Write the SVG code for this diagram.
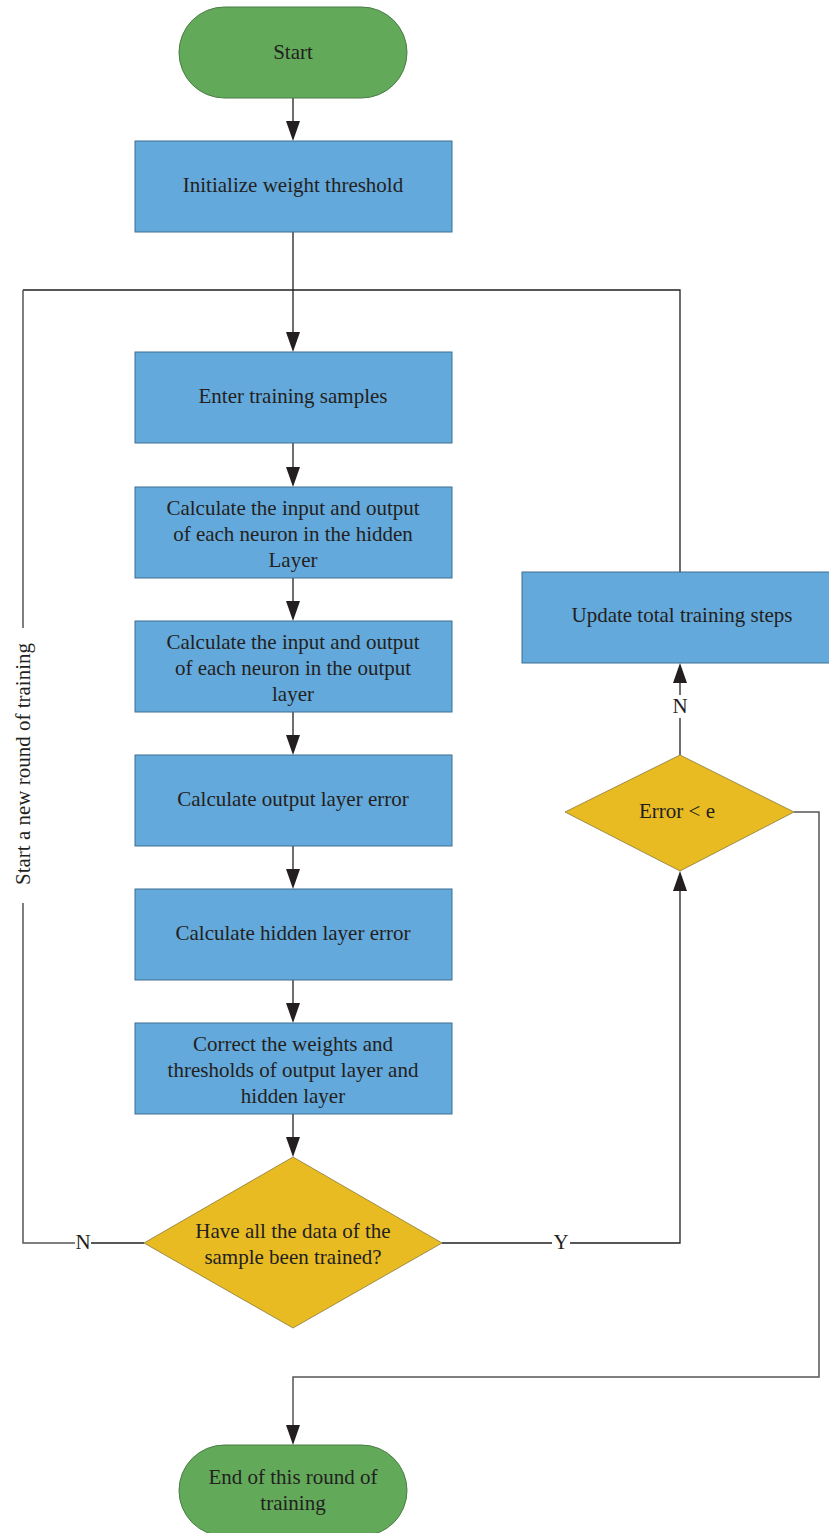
<svg xmlns="http://www.w3.org/2000/svg" width="829" height="1533" viewBox="0 0 829 1533">
<style>
.t{font-family:"Liberation Serif","Times New Roman",serif;font-size:21px;fill:#231f20;text-anchor:middle;dominant-baseline:central}
.box{fill:#63a9dc;stroke:#3f6f8f;stroke-width:1}
.term{fill:#62a95a;stroke:#4a7d44;stroke-width:1}
.dec{fill:#e8bb23;stroke:#8a7a3a;stroke-width:0.8}
.c{fill:none;stroke:#231f20;stroke-width:1.3}
.cg{fill:none;stroke:#555;stroke-width:1.5}
.ah{fill:#231f20}
</style>
<g id="connectors">
<line class="c" x1="293" y1="98" x2="293" y2="125"/>
<path class="ah" d="M286,121 L300,121 L293,141 Z"/>
<line class="c" x1="293" y1="232" x2="293" y2="336"/>
<path class="ah" d="M286,332 L300,332 L293,352 Z"/>
<polyline class="c" points="680,572 680,290 23,290"/>
<polyline class="cg" points="23,290 23,628"/>
<polyline class="cg" points="23,903 23,1243 75,1243"/>
<line class="c" x1="91" y1="1243" x2="144" y2="1243"/>
<line class="c" x1="293" y1="443" x2="293" y2="470"/>
<path class="ah" d="M286,467 L300,467 L293,487 Z"/>
<line class="c" x1="293" y1="578" x2="293" y2="605"/>
<path class="ah" d="M286,601 L300,601 L293,621 Z"/>
<line class="c" x1="293" y1="712" x2="293" y2="739"/>
<path class="ah" d="M286,735 L300,735 L293,755 Z"/>
<line class="c" x1="293" y1="846" x2="293" y2="873"/>
<path class="ah" d="M286,869 L300,869 L293,889 Z"/>
<line class="c" x1="293" y1="980" x2="293" y2="1007"/>
<path class="ah" d="M286,1003 L300,1003 L293,1023 Z"/>
<line class="c" x1="293" y1="1114" x2="293" y2="1141"/>
<path class="ah" d="M286,1137 L300,1137 L293,1157 Z"/>
<line class="c" x1="442" y1="1243" x2="552" y2="1243"/>
<polyline class="c" points="570,1243 680,1243 680,888"/>
<path class="ah" d="M673,891 L680,871 L687,891 Z"/>
<line class="c" x1="680" y1="755" x2="680" y2="718"/>
<line class="c" x1="680" y1="695" x2="680" y2="680"/>
<path class="ah" d="M673,683 L680,663 L687,683 Z"/>
<polyline class="cg" points="794,812 819,812 819,1377 293,1377 293,1430"/>
<path class="ah" d="M286,1425 L300,1425 L293,1445 Z"/>
<text class="t" x="83" y="1242">N</text>
<text class="t" x="561" y="1242">Y</text>
<text class="t" x="680" y="706">N</text>
<text class="t" x="23" y="764" transform="rotate(-90 23 764)">Start a new round of training</text>
</g>
<g id="start">
<rect class="term" x="179" y="7" width="228" height="91" rx="45.5"/>
<text class="t" x="293" y="52">Start</text>
</g>
<g id="init">
<rect class="box" x="135" y="141" width="317" height="91"/>
<text class="t" x="293" y="185">Initialize weight threshold</text>
</g>
<g id="enter">
<rect class="box" x="135" y="352" width="317" height="91"/>
<text class="t" x="293" y="396">Enter training samples</text>
</g>
<g id="calc-hidden">
<rect class="box" x="135" y="487" width="317" height="91"/>
<text class="t" x="293" y="508">Calculate the input and output</text>
<text class="t" x="293" y="534">of each neuron in the hidden</text>
<text class="t" x="293" y="560">Layer</text>
</g>
<g id="calc-output">
<rect class="box" x="135" y="621" width="317" height="91"/>
<text class="t" x="293" y="642">Calculate the input and output</text>
<text class="t" x="293" y="668">of each neuron in the output</text>
<text class="t" x="293" y="694">layer</text>
</g>
<g id="out-error">
<rect class="box" x="135" y="755" width="317" height="91"/>
<text class="t" x="293" y="799">Calculate output layer error</text>
</g>
<g id="hid-error">
<rect class="box" x="135" y="889" width="317" height="91"/>
<text class="t" x="293" y="933">Calculate hidden layer error</text>
</g>
<g id="correct">
<rect class="box" x="135" y="1023" width="317" height="91"/>
<text class="t" x="293" y="1044">Correct the weights and</text>
<text class="t" x="293" y="1070">thresholds of output layer and</text>
<text class="t" x="293" y="1096">hidden layer</text>
</g>
<g id="all-trained">
<polygon class="dec" points="293,1157 442,1243 293,1328 144,1243"/>
<text class="t" x="293" y="1231">Have all the data of the</text>
<text class="t" x="293" y="1257">sample been trained?</text>
</g>
<g id="error-check">
<polygon class="dec" points="680,755 794,812 680,871 565,812"/>
<text class="t" x="677" y="811">Error &lt; e</text>
</g>
<g id="update">
<rect class="box" x="522" y="572" width="310" height="91"/>
<text class="t" x="682" y="615">Update total training steps</text>
</g>
<g id="end">
<rect class="term" x="179" y="1445" width="228" height="91" rx="45.5"/>
<text class="t" x="293" y="1477">End of this round of</text>
<text class="t" x="293" y="1503">training</text>
</g>
</svg>
